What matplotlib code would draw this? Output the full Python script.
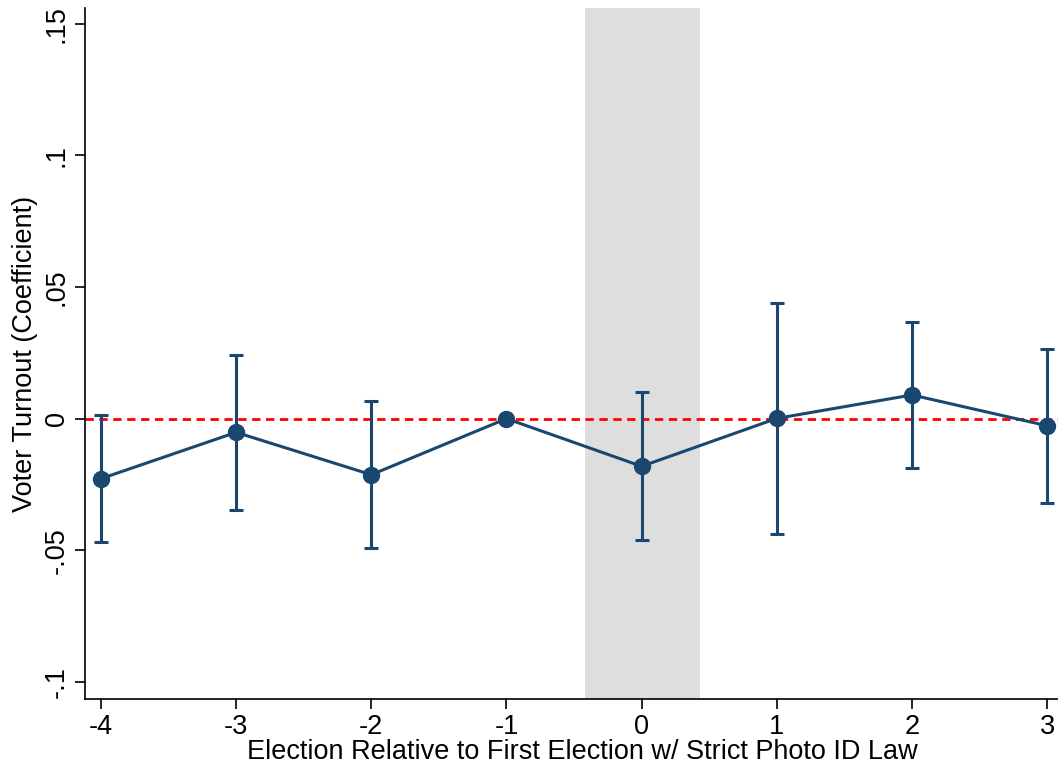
import numpy as np
import matplotlib.pyplot as plt

plt.rcParams['font.family'] = ['Liberation Sans', 'DejaVu Sans']
plt.rcParams['axes.unicode_minus'] = False

# Event-study coefficients and 95% CI bounds
periods = [-4, -3, -2, -1, 0, 1, 2, 3]
coef = [-0.0228, -0.0052, -0.0213, 0.0, -0.0181, 0.0001, 0.0090, -0.0027]
ci_hi = [0.0014, 0.0242, 0.0068, 0.0, 0.0101, 0.0440, 0.0368, 0.0266]
ci_lo = [-0.0467, -0.0346, -0.0493, 0.0, -0.0462, -0.0438, -0.0187, -0.0319]
yticks = [-0.1, -0.05, 0, 0.05, 0.1, 0.15]
yticklabels = ['-.1', '-.05', '0', '.05', '.1', '.15']
shade = [-0.42, 0.43]

navy = '#1a476f'

fig = plt.figure(figsize=(10.58, 7.72), dpi=100)
ax = fig.add_axes([85 / 1058, 1 - 699 / 772, 1 - 85 / 1058, (699 - 8) / 772])

ax.axvspan(shade[0], shade[1], color='#dedede', zorder=0, lw=0)
ax.axhline(0, color='red', ls=(0, (3, 2)), lw=2, zorder=1)

coef = np.array(coef)
err = [coef - np.array(ci_lo), np.array(ci_hi) - coef]
ax.errorbar(periods, coef, yerr=err, fmt='none', ecolor=navy,
            elinewidth=2.2, capsize=5, capthick=2.2, zorder=2)
ax.plot(periods, coef, '-o', color=navy, lw=2.2, ms=11.5, zorder=3)

ax.set_xlim(-4.118, 3.08)
ax.set_ylim(-0.1065, 0.156)
ax.set_xticks(periods)
ax.set_yticks(yticks)
ax.set_yticklabels(yticklabels, rotation=90, va='center')
ax.tick_params(labelsize=19.5, length=7.5, width=1.2, color='black')
ax.spines['top'].set_visible(False)
ax.spines['right'].set_visible(False)
ax.spines['left'].set_linewidth(1.2)
ax.spines['bottom'].set_linewidth(1.2)

ax.set_xlabel('Election Relative to First Election w/ Strict Photo ID Law',
              fontsize=19.5)
ax.xaxis.set_label_coords(0.511, -0.058, transform=ax.transAxes)
ax.xaxis.label.set_va('top')
ax.set_ylabel('Voter Turnout (Coefficient)', fontsize=19.5, labelpad=4)

fig.savefig('out.png', dpi=100)
